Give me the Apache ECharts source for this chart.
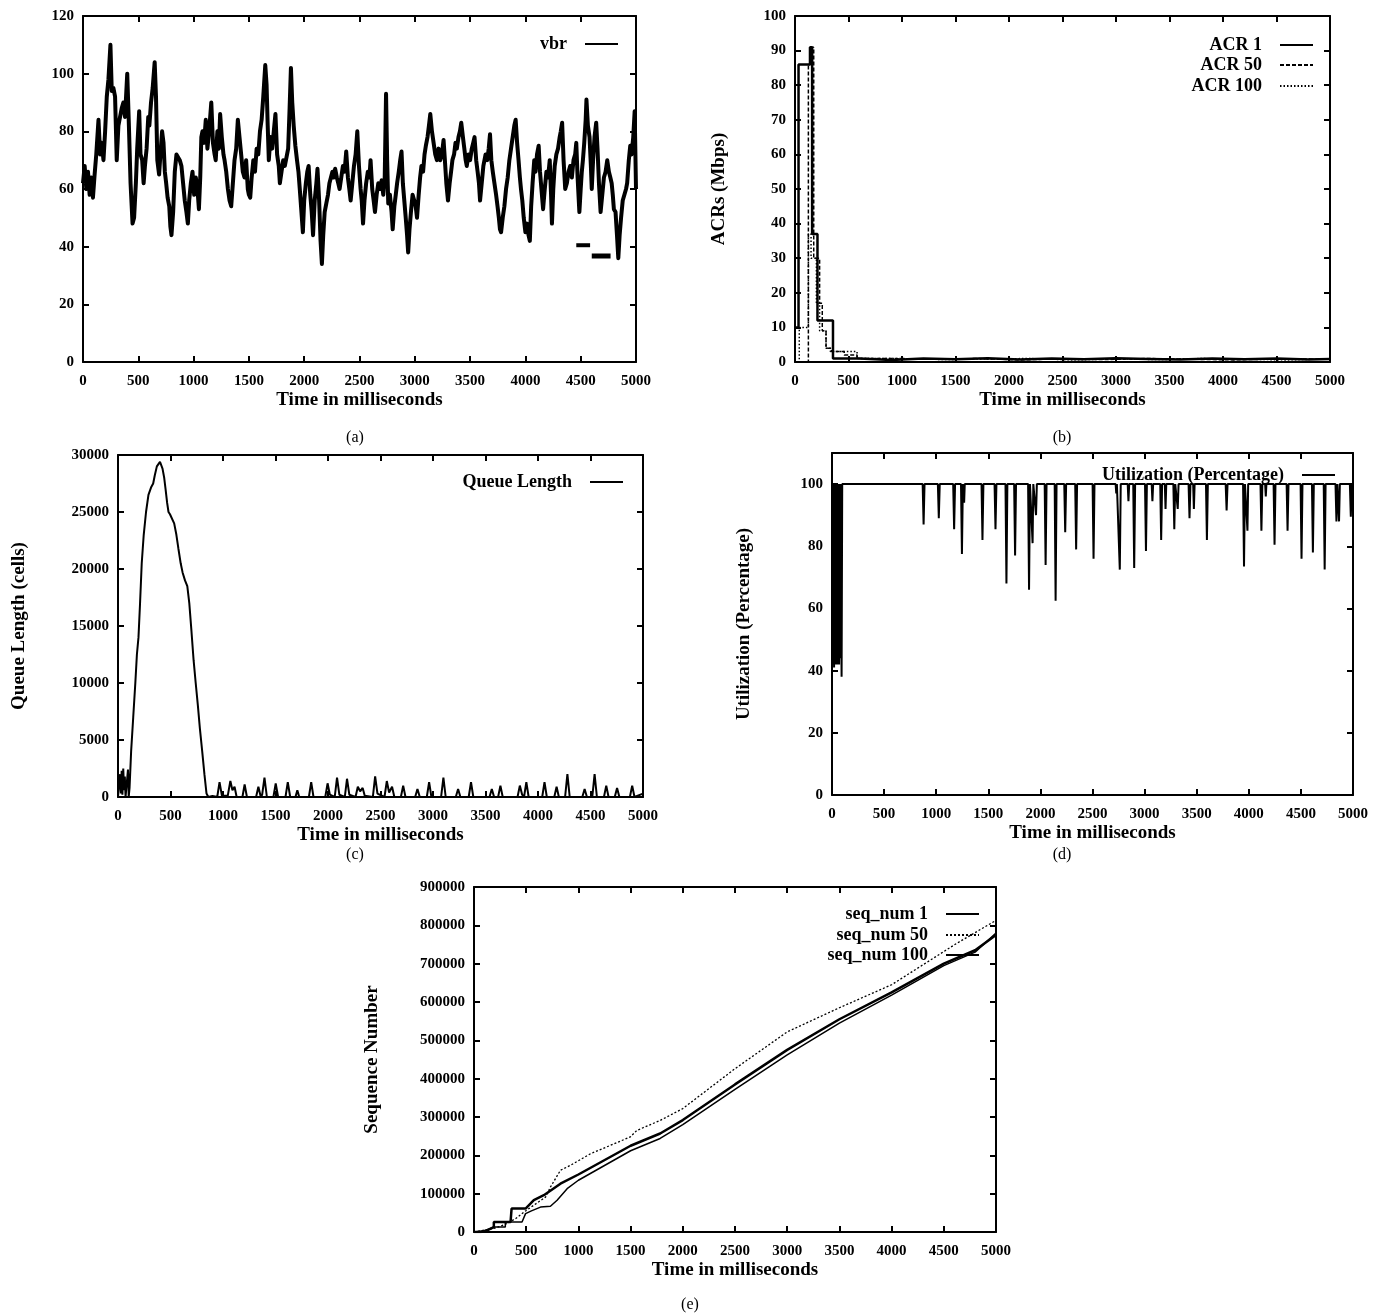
<!DOCTYPE html>
<html><head><meta charset="utf-8">
<script src="https://cdn.jsdelivr.net/npm/echarts@6/dist/echarts.min.js"></script>
<style>html,body{margin:0;padding:0;background:#fff}#c{width:1380px;height:1315px}</style>
</head><body><div id="c"></div>
<script>
// ---------- data (time in ms, value) ----------
const vbr = [[0,62],[15,68],[30,60],[45,66],[60,58],[75,64],[90,57],[105,65],[120,72],[140,84],[155,72],[170,76],[185,70],[200,80],[215,92],[230,98],[248,110],[260,94],[275,95],[290,92],[305,70],[320,82],[335,85],[350,88],[365,90],[380,85],[400,100],[415,82],[430,62],[448,48],[462,50],[478,62],[490,74],[508,87],[520,72],[535,70],[548,62],[560,68],[575,74],[590,85],[600,82],[615,90],[630,95],[648,104],[660,92],[672,70],[688,65],[700,72],[715,80],[728,76],[740,66],[752,62],[765,57],[780,54],[790,47],[800,44],[815,52],[830,66],[845,72],[860,72],[875,70],[890,68],[905,62],[920,56],[935,52],[948,48],[960,56],[975,62],[990,66],[1005,58],[1020,64],[1035,60],[1048,53],[1060,64],[1070,78],[1080,80],[1095,76],[1110,84],[1125,74],[1140,80],[1160,90],[1175,76],[1190,72],[1200,70],[1215,80],[1228,74],[1240,86],[1255,78],[1270,72],[1280,70],[1295,66],[1310,60],[1325,56],[1340,54],[1355,62],[1370,70],[1385,74],[1400,84],[1415,78],[1430,72],[1445,66],[1460,64],[1475,70],[1490,60],[1500,58],[1512,57],[1525,64],[1540,70],[1555,66],[1570,74],[1585,72],[1600,80],[1615,84],[1630,92],[1648,103],[1660,96],[1670,82],[1680,70],[1695,78],[1710,74],[1725,80],[1740,86],[1755,72],[1770,68],[1780,62],[1795,66],[1810,70],[1825,68],[1840,68],[1855,74],[1868,88],[1880,102],[1892,90],[1905,82],[1920,75],[1935,70],[1948,66],[1960,60],[1975,52],[1988,45],[2000,56],[2015,62],[2028,66],[2040,68],[2055,58],[2068,52],[2080,44],[2095,56],[2110,62],[2120,67],[2135,56],[2148,42],[2160,34],[2172,44],[2185,52],[2200,55],[2215,58],[2228,62],[2240,62],[2255,66],[2268,64],[2280,67],[2295,64],[2308,62],[2320,60],[2335,64],[2350,68],[2365,66],[2380,73],[2395,64],[2408,60],[2420,56],[2435,62],[2450,68],[2465,72],[2480,80],[2495,68],[2510,60],[2520,56],[2532,48],[2545,56],[2560,62],[2575,66],[2590,64],[2600,70],[2615,60],[2628,56],[2640,52],[2655,58],[2670,62],[2685,60],[2700,63],[2715,58],[2728,64],[2740,93],[2750,70],[2760,55],[2775,58],[2790,52],[2800,46],[2815,54],[2828,58],[2840,62],[2855,66],[2868,70],[2880,73],[2892,62],[2905,56],[2918,50],[2930,44],[2940,38],[2952,46],[2965,52],[2980,58],[2995,56],[3008,54],[3020,50],[3035,58],[3048,64],[3060,68],[3075,66],[3088,72],[3100,75],[3115,78],[3128,82],[3140,86],[3155,80],[3170,76],[3185,72],[3200,70],[3215,74],[3230,70],[3245,72],[3260,77],[3272,70],[3285,62],[3300,56],[3315,62],[3328,66],[3340,70],[3355,72],[3368,76],[3380,74],[3395,78],[3408,80],[3420,83],[3435,78],[3448,74],[3460,70],[3470,68],[3485,72],[3500,70],[3515,74],[3528,76],[3540,78],[3555,70],[3568,66],[3580,62],[3590,56],[3605,62],[3620,68],[3630,70],[3640,72],[3655,70],[3668,74],[3680,79],[3692,70],[3705,66],[3720,62],[3735,58],[3748,54],[3760,50],[3770,46],[3780,45],[3795,50],[3810,54],[3825,60],[3840,64],[3855,70],[3870,74],[3885,78],[3900,82],[3912,84],[3925,76],[3938,70],[3950,64],[3960,60],[3972,56],[3985,50],[4000,45],[4015,48],[4028,44],[4040,42],[4052,54],[4065,62],[4080,70],[4092,66],[4105,72],[4120,75],[4132,66],[4145,60],[4160,53],[4175,60],[4190,66],[4205,64],[4220,70],[4232,58],[4240,48],[4252,60],[4265,68],[4280,72],[4295,74],[4310,78],[4320,80],[4332,83],[4345,70],[4360,60],[4375,62],[4390,66],[4405,68],[4420,64],[4435,70],[4450,72],[4460,76],[4472,64],[4488,52],[4500,60],[4510,66],[4520,70],[4532,76],[4545,84],[4552,91],[4565,82],[4580,78],[4592,68],[4600,60],[4612,70],[4625,78],[4640,83],[4652,74],[4665,62],[4680,52],[4695,58],[4710,64],[4725,66],[4740,70],[4755,66],[4768,64],[4780,62],[4790,58],[4800,53],[4815,52],[4828,44],[4840,36],[4852,44],[4865,50],[4880,56],[4895,58],[4910,60],[4920,62],[4935,70],[4948,75],[4960,72],[4975,78],[4988,87],[5000,60]];
const vbrDashA = [[4460,40.5],[4585,40.5]];
const vbrDashB = [[4600,36.8],[4770,36.8]];

const acr1 = [[0,10],[33,86],[140,91],[160,37],[210,12],[355,1],[600,0.6],[900,1],[1200,0.8],[1500,1.1],[1800,0.7],[2100,1],[2400,0.8],[2700,1.1],[3000,0.9],[3300,0.7],[3600,1],[3900,0.8],[4200,1],[4500,0.7],[4800,0.9],[5000,0.8]];
const acr50 = [[0,0],[125,86],[150,91],[175,30],[230,17],[255,9],[290,4],[340,3],[460,2],[580,1],[900,0.8],[1300,1],[1700,0.6],[2100,0.9],[2500,0.7],[2900,1],[3300,0.8],[3700,0.6],[4100,0.9],[4500,0.8],[5000,0.7]];
const acr100 = [[0,0],[40,10],[125,37],[150,30],[200,17],[230,9],[290,4],[330,3],[580,1],[1000,0.7],[1400,0.9],[1800,1],[2200,0.6],[2600,0.9],[3000,0.7],[3400,1],[3800,0.8],[4200,0.6],[4600,0.9],[5000,0.8]];

const queueLength = [[0,0],[15,0],[20,2000],[28,300],[35,2300],[42,200],[50,2500],[58,600],[65,1800],[72,0],[85,0],[95,2400],[102,0],[110,800],[125,4000],[145,7000],[165,10000],[180,12500],[195,14000],[210,17000],[226,20500],[245,23000],[267,25000],[290,26500],[317,27200],[335,27500],[350,28200],[370,29000],[385,29200],[400,29400],[412,29300],[424,28800],[440,28000],[453,27000],[468,25800],[481,25000],[495,24800],[514,24800],[535,24000],[556,23000],[575,21800],[597,20500],[615,19700],[638,19000],[660,18500],[679,17000],[700,14500],[720,12000],[740,10000],[761,8000],[780,6000],[802,4000],[823,2000],[843,300],[860,0],[900,100],[945,0],[967,1300],[990,100],[1045,100],[1070,1400],[1090,600],[1110,900],[1130,0],[1185,0],[1206,1100],[1228,0],[1315,0],[1337,900],[1360,0],[1373,200],[1395,1700],[1418,0],[1480,0],[1502,1200],[1525,0],[1595,0],[1617,1300],[1640,0],[1690,0],[1708,600],[1726,0],[1818,0],[1840,1300],[1862,0],[1974,0],[1996,1200],[2018,200],[2064,0],[2086,1700],[2108,200],[2160,0],[2181,1600],[2203,200],[2262,0],[2284,900],[2306,500],[2330,800],[2350,100],[2427,0],[2449,1800],[2471,300],[2538,0],[2560,1400],[2582,400],[2610,900],[2632,0],[2694,0],[2716,1000],[2738,0],[2830,0],[2852,700],[2874,0],[2941,0],[2963,1300],[2985,0],[3077,0],[3099,1700],[3121,0],[3217,0],[3239,700],[3261,0],[3340,0],[3362,1300],[3384,0],[3538,0],[3560,700],[3582,0],[3620,0],[3642,1000],[3664,0],[3805,0],[3827,1000],[3849,200],[3867,0],[3889,1300],[3911,0],[4040,0],[4062,1300],[4084,0],[4155,0],[4177,900],[4199,0],[4258,0],[4280,2000],[4302,0],[4422,0],[4444,700],[4466,0],[4517,0],[4539,2000],[4561,0],[4628,0],[4650,1000],[4672,0],[4731,0],[4753,800],[4775,0],[4875,0],[4897,1000],[4919,0],[5000,300]];

const utilization = [[0,100],[4,42],[8,100],[12,44],[16,100],[20,41],[24,100],[28,43],[32,100],[36,42],[40,100],[44,44],[48,100],[52,42],[56,100],[60,43],[64,100],[68,42],[72,100],[76,44],[80,100],[86,100],[92,38],[98,100],[870,100],[879,87],[888,100],[1016,100],[1025,89],[1034,100],[1163,100],[1172,85.5],[1181,100],[1238,100],[1247,77.5],[1256,100],[1262,100],[1268,94],[1274,100],[1435,100],[1444,82],[1453,100],[1560,100],[1569,85.5],[1578,100],[1665,100],[1674,68],[1683,100],[1748,100],[1757,77],[1766,100],[1882,100],[1891,66],[1900,100],[1918,100],[1925,81],[1932,100],[1950,100],[1958,90],[1966,100],[2041,100],[2050,74],[2059,100],[2137,100],[2146,62.5],[2155,100],[2229,100],[2238,84.5],[2247,100],[2334,100],[2343,79],[2352,100],[2501,100],[2510,76],[2519,100],[2722,100],[2728,97],[2734,100],[2753,100],[2762,72.5],[2771,100],[2838,100],[2845,94.5],[2852,100],[2891,100],[2900,73],[2909,100],[3004,100],[3013,78.5],[3022,100],[3068,100],[3075,94.5],[3082,100],[3150,100],[3159,82],[3168,100],[3194,100],[3201,92],[3208,100],[3276,100],[3285,85.5],[3294,100],[3310,100],[3318,92],[3326,100],[3422,100],[3431,89],[3440,100],[3466,100],[3473,92],[3480,100],[3589,100],[3598,82],[3607,100],[3778,100],[3787,91.5],[3796,100],[3945,100],[3954,73.5],[3963,100],[3980,100],[3987,85],[3994,100],[4112,100],[4121,85],[4130,100],[4157,100],[4163,96],[4169,100],[4238,100],[4247,80.5],[4256,100],[4363,100],[4372,85],[4381,100],[4497,100],[4506,76],[4515,100],[4606,100],[4615,78],[4624,100],[4719,100],[4728,72.5],[4737,100],[4832,100],[4841,88],[4850,100],[4858,100],[4866,88],[4874,100],[4970,100],[4979,89.5],[4988,100],[5000,100]];

const seqNum1 = [[0,0],[64,0],[130,5000],[190,13000],[190,26000],[300,26000],[350,26000],[360,61000],[494,61000],[573,83000],[669,96000],[828,126000],[1000,150000],[1500,225000],[1783,257000],[2000,292000],[2500,385000],[3000,475000],[3500,555000],[4000,625000],[4500,700000],[4800,735000],[5000,775000]];
const seqNum50 = [[0,0],[200,10000],[300,20000],[400,35000],[494,55000],[685,91000],[732,117000],[828,161000],[924,174000],[1115,204000],[1306,226000],[1497,248000],[1560,265000],[1783,291000],[2000,322000],[2500,426000],[3000,522000],[3500,585000],[4000,645000],[4618,752000],[5000,813000]];
const seqNum100 = [[0,0],[100,3000],[190,13000],[300,13000],[300,26000],[460,26000],[494,48000],[550,55000],[637,65000],[732,67000],[796,83000],[892,113000],[1000,135000],[1500,212000],[1783,244000],[2000,280000],[2500,372000],[3000,462000],[3500,545000],[4000,618000],[4500,695000],[4800,730000],[5000,780000]];

// ---------- styling / layout ----------
const SERIF = '"Liberation Serif","Times New Roman",serif';
const BLACK = '#000';
const grids = [
  {left:83, top:16, width:553, height:346},
  {left:795, top:16, width:535, height:346},
  {left:118, top:455, width:525, height:342},
  {left:832, top:453, width:521, height:342},
  {left:474, top:887, width:522, height:345}
];
const yCfg = [
  {min:0, max:120, interval:20, name:'', gap:0, showMax:true},
  {min:0, max:100, interval:10, name:'ACRs (Mbps)', gap:66, showMax:true},
  {min:0, max:30000, interval:5000, name:'Queue Length (cells)', gap:89, showMax:true},
  {min:0, max:110, interval:20, name:'Utilization (Percentage)', gap:78, showMax:false},
  {min:0, max:900000, interval:100000, name:'Sequence Number', gap:92, showMax:true}
];
const tickStyle = {fontFamily:SERIF, fontWeight:'bold', fontSize:15, color:BLACK};
const titleStyle = {fontFamily:SERIF, fontWeight:'bold', fontSize:19, color:BLACK};
const axLine = {show:true, onZero:false, lineStyle:{color:BLACK, width:2}};
const axTick = {show:true, inside:true, length:6, lineStyle:{color:BLACK, width:2}};
const plain = v => String(v);

const xAxes = [], yAxes = [];
grids.forEach((g,i)=>{
  xAxes.push({gridIndex:i, type:'value', position:'bottom', min:0, max:5000, interval:500,
    axisLine:axLine, axisTick:axTick, splitLine:{show:false},
    axisLabel:Object.assign({margin:12, formatter:plain}, tickStyle),
    name:'Time in milliseconds', nameLocation:'middle', nameGap:29, nameTextStyle:titleStyle});
  xAxes.push({gridIndex:i, type:'value', position:'top', min:0, max:5000, interval:500,
    axisLine:axLine, axisTick:axTick, splitLine:{show:false}, axisLabel:{show:false}});
  const c = yCfg[i];
  yAxes.push({gridIndex:i, type:'value', position:'left', min:c.min, max:c.max, interval:c.interval,
    axisLine:axLine, axisTick:axTick, splitLine:{show:false},
    axisLabel:Object.assign({margin:9, showMaxLabel:c.showMax, formatter:plain}, tickStyle),
    name:c.name, nameLocation:'middle', nameGap:c.gap, nameRotate:90, nameTextStyle:titleStyle});
  yAxes.push({gridIndex:i, type:'value', position:'right', min:c.min, max:c.max, interval:c.interval,
    axisLine:axLine, axisTick:axTick, splitLine:{show:false}, axisLabel:{show:false}});
});

function line(name, data, gi, style, extra){
  return Object.assign({name:name, type:'line', data:data, xAxisIndex:gi*2, yAxisIndex:gi*2,
    symbol:'none', showSymbol:false, animation:false, silent:true,
    lineStyle:Object.assign({color:BLACK}, style), itemStyle:{color:BLACK}}, extra||{});
}
const series = [
  line('vbr', vbr, 0, {width:4, join:'round'}),
  line('vbrA', vbrDashA, 0, {width:4}),
  line('vbrB', vbrDashB, 0, {width:5}),
  line('ACR 1', acr1, 1, {width:2.5}, {step:'end'}),
  line('ACR 50', acr50, 1, {width:1.5, type:[4,2]}, {step:'end'}),
  line('ACR 100', acr100, 1, {width:1.5, type:[1.5,2]}, {step:'end'}),
  line('Queue Length', queueLength, 2, {width:2}),
  line('Utilization (Percentage)', utilization, 3, {width:2}),
  line('seq_num 1', seqNum1, 4, {width:2.5}),
  line('seq_num 50', seqNum50, 4, {width:1.3, type:[2,2]}),
  line('seq_num 100', seqNum100, 4, {width:1.5})
];

function leg(name, rightPx, centerY){
  return {data:[name], right:rightPx, top:centerY-10, orient:'horizontal', align:'right', padding:0,
    itemWidth:33, itemHeight:12, selectedMode:false,
    itemStyle:{color:'rgba(0,0,0,0)', borderWidth:0, opacity:0},
    textStyle:Object.assign({padding:[0,13,0,0]}, titleStyle, {fontSize:18})};
}
const legends = [
  leg('vbr', 1380-619, 45),
  leg('ACR 1', 1380-1314, 46),
  leg('ACR 50', 1380-1314, 66),
  leg('ACR 100', 1380-1314, 87),
  leg('Queue Length', 1380-624, 483),
  leg('Utilization (Percentage)', 1380-1336, 476),
  leg('seq_num 1', 1380-980, 915),
  leg('seq_num 50', 1380-980, 936),
  leg('seq_num 100', 1380-980, 956)
];

const captions = [['(a)',355,438],['(b)',1062,438],['(c)',355,855],['(d)',1062,855],['(e)',690,1305]];
const graphics = captions.map(c=>({type:'text', x:c[1], y:c[2],
  style:{text:c[0], textAlign:'center', textVerticalAlign:'middle', font:'16px '+SERIF, fill:BLACK}}));

const chart = echarts.init(document.getElementById('c'), null, {renderer:'canvas'});
chart.setOption({
  backgroundColor:'#fff',
  animation:false,
  grid:grids.map(g=>Object.assign({outerBoundsMode:'none'}, g)),
  xAxis:xAxes, yAxis:yAxes, series:series, legend:legends, graphic:graphics
});
</script></body></html>
